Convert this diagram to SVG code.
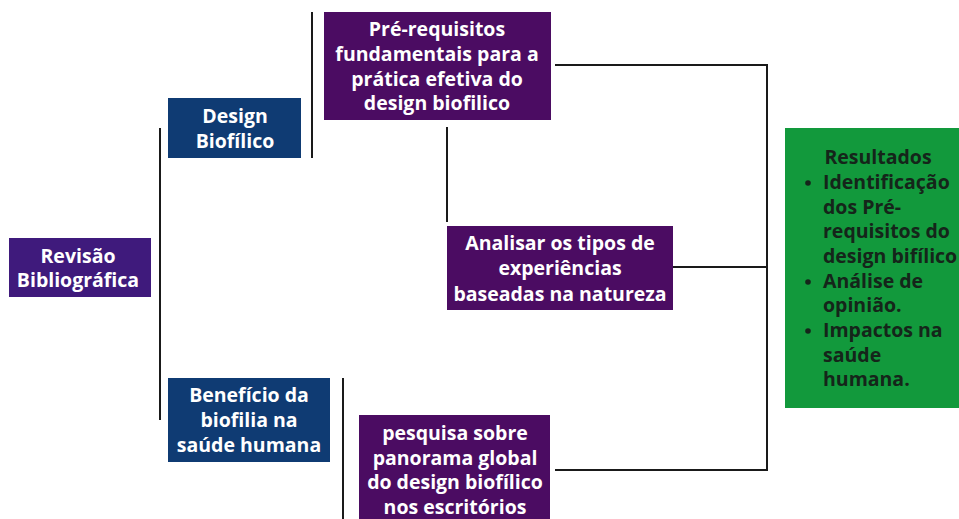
<svg xmlns="http://www.w3.org/2000/svg" width="959" height="519" viewBox="0 0 959 519">
<style>
.t{font-family:"Open Sans","Liberation Sans",sans-serif;font-weight:bold;font-size:19.5px;fill:#ffffff;text-anchor:middle}
.g{font-family:"Open Sans","Liberation Sans",sans-serif;font-weight:bold;font-size:19.5px;fill:#15251a}
.c{stroke:#1a1a1a;stroke-width:2;fill:none}
</style>
<rect width="959" height="519" fill="#ffffff"/>
<g id="connectors">
<line class="c" x1="160" y1="128" x2="160" y2="420"/>
<line class="c" x1="312" y1="12" x2="312" y2="158"/>
<line class="c" x1="343" y1="378" x2="343" y2="519"/>
<line class="c" x1="447" y1="127" x2="447" y2="222"/>
<polyline class="c" points="555,65 767,65 767,470 555,470"/>
<line class="c" x1="673" y1="267" x2="767" y2="267"/>
</g>
<g id="revisao">
<rect x="9" y="238" width="142" height="59" fill="#3f1a7c"/>
<text class="t"><tspan x="78" y="263">Revisão</tspan><tspan x="78" y="287">Bibliográfica</tspan></text>
</g>
<g id="design">
<rect x="168" y="98" width="133" height="60" fill="#0f3b73"/>
<text class="t"><tspan x="235" y="123">Design</tspan><tspan x="235" y="148">Biofílico</tspan></text>
</g>
<g id="prerequisitos">
<rect x="324" y="12" width="227" height="108" fill="#4b0c62"/>
<text class="t"><tspan x="437" y="36">Pré-requisitos</tspan><tspan x="437" y="61">fundamentais para a</tspan><tspan x="437" y="86">prática efetiva do</tspan><tspan x="437" y="110">design biofilico</tspan></text>
</g>
<g id="analisar">
<rect x="447" y="226" width="226" height="84" fill="#4b0c62"/>
<text class="t"><tspan x="560" y="250">Analisar os tipos de</tspan><tspan x="560" y="275">experiências</tspan><tspan x="560" y="301">baseadas na natureza</tspan></text>
</g>
<g id="beneficio">
<rect x="168" y="378" width="162" height="84" fill="#0f3b73"/>
<text class="t"><tspan x="249" y="402">Benefício da</tspan><tspan x="249" y="427">biofilia na</tspan><tspan x="249" y="452">saúde humana</tspan></text>
</g>
<g id="pesquisa">
<rect x="359" y="415" width="191" height="110" fill="#4b0c62"/>
<text class="t"><tspan x="455" y="440">pesquisa sobre</tspan><tspan x="455" y="465">panorama global</tspan><tspan x="455" y="489">do design biofílico</tspan><tspan x="455" y="514">nos escritórios</tspan></text>
</g>
<g id="resultados">
<rect x="785" y="128" width="180" height="280" fill="#12993c"/>
<text class="g" x="878" y="164" text-anchor="middle">Resultados</text>
<circle cx="808" cy="183" r="2.8" fill="#15251a"/>
<circle cx="808" cy="282" r="2.8" fill="#15251a"/>
<circle cx="808" cy="331" r="2.8" fill="#15251a"/>
<text class="g"><tspan x="823" y="189">Identificação</tspan><tspan x="823" y="214">dos Pré-</tspan><tspan x="823" y="238">requisitos do</tspan><tspan x="823" y="263">design bifílico</tspan><tspan x="823" y="288">Análise de</tspan><tspan x="823" y="312">opinião.</tspan><tspan x="823" y="337">Impactos na</tspan><tspan x="823" y="362">saúde</tspan><tspan x="823" y="386">humana.</tspan></text>
</g>
</svg>
